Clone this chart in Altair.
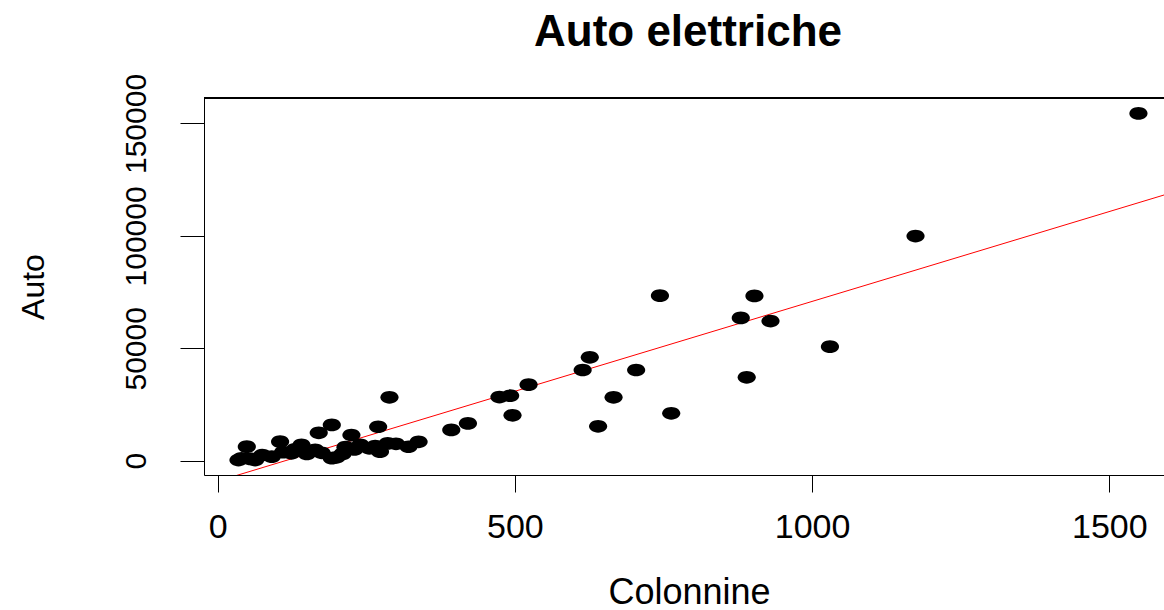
import altair as alt
import pandas as pd

# Data
colonnine = [1549, 1174, 903, 880, 930, 1030, 890, 744, 626, 614, 704, 666, 640, 763,
             523, 492, 474, 496, 421, 393, 289, 192, 170, 270, 225, 286, 338, 321, 273,
             141, 105, 49, 40, 63,
             35, 55, 75, 91, 110, 124, 130, 145, 150, 164, 175, 192, 200, 210, 215, 230,
             240, 255, 265, 300]
auto = [154500, 99900, 73300, 63500, 62100, 50700, 37100, 73400, 46000, 40350, 40350, 28200, 15300, 21100,
        33800, 28900, 28300, 20200, 16600, 13700, 28200, 15900, 12400, 15100, 11400, 7700, 8400, 6200, 4000,
        7000, 8450, 6230, 1070, 300,
        300, 800, 2500, 1800, 3800, 3300, 5000, 4500, 3000, 4800, 3500, 1100, 1500, 3000, 6000, 5000,
        7000, 5500, 6500, 7500]

# Regression line (abline) endpoints
line_x = [-23, 1592]
line_y = [-10940, 118190]

x_ticks = [0, 500, 1000, 1500]
y_ticks = [0, 50000, 100000, 150000]

W, H = 960, 377
FONT = "Liberation Sans"

pts = pd.DataFrame({"Colonnine": colonnine, "Auto": auto})
ln = pd.DataFrame({"Colonnine": line_x, "Auto": line_y})

xscale = alt.Scale(domain=[-23, 1592], nice=False, zero=False)
yscale = alt.Scale(domain=[-6361, 161343], nice=False, zero=False)

xaxis = alt.Axis(values=x_ticks, title="Colonnine", grid=False, tickSize=17,
                 labelPadding=45, labelBaseline="alphabetic", labelFontSize=34,
                 titleFontSize=36, titleY=128, titleX=485, titleBaseline="alphabetic",
                 titleFontWeight="normal", domainColor="black", tickColor="black",
                 labelColor="black", titleColor="black", format="d", labelFlush=False,
                 labelFont=FONT, titleFont=FONT, domainWidth=1, tickWidth=1)
yaxis = alt.Axis(values=y_ticks, title="Auto", grid=False, tickSize=24,
                 labelAngle=270, labelAlign="center", labelBaseline="alphabetic",
                 labelPadding=35, labelFontSize=30, labelFlush=False, labelOverlap=False,
                 titleAngle=270, titleAlign="center", titleBaseline="alphabetic",
                 titleX=-161, titleY=188.5, titleFontSize=32, titleFontWeight="normal",
                 domainColor="black", tickColor="black", labelColor="black",
                 titleColor="black", format="d", labelFont=FONT, titleFont=FONT,
                 domainWidth=1, tickWidth=1)

# slightly wide ellipse, like the stretched dots in the reference
ELLIPSE = "M -1 0 A 1 0.7 0 1 0 1 0 A 1 0.7 0 1 0 -1 0 Z"

points = alt.Chart(pts).mark_point(shape=ELLIPSE, filled=True, size=330, color="black",
                                   opacity=1, strokeWidth=0).encode(
    x=alt.X("Colonnine:Q", scale=xscale, axis=xaxis),
    y=alt.Y("Auto:Q", scale=yscale, axis=yaxis),
)

line = alt.Chart(ln).mark_line(color="red", strokeWidth=1, clip=True).encode(
    x=alt.X("Colonnine:Q", scale=xscale),
    y=alt.Y("Auto:Q", scale=yscale),
)

top_border = alt.Chart(pts).mark_rule(color="black", strokeWidth=1).encode(
    x=alt.value(0), x2=alt.value(W), y=alt.value(0)
)

chart = alt.layer(line, points, top_border).properties(
    width=W, height=H,
    title=alt.TitleParams("Auto elettriche", fontSize=44, fontWeight="bold", font=FONT,
                          anchor="middle", color="black", baseline="alphabetic",
                          offset=10, dy=27, dx=4),
    autosize=alt.AutoSizeParams(type="none"),
    padding={"left": 204, "top": 98, "right": 0, "bottom": 135},
).configure(font=FONT).configure_view(stroke=None).configure(background="white")

chart.save("out.html", embed_options={"renderer": "svg", "actions": False})
